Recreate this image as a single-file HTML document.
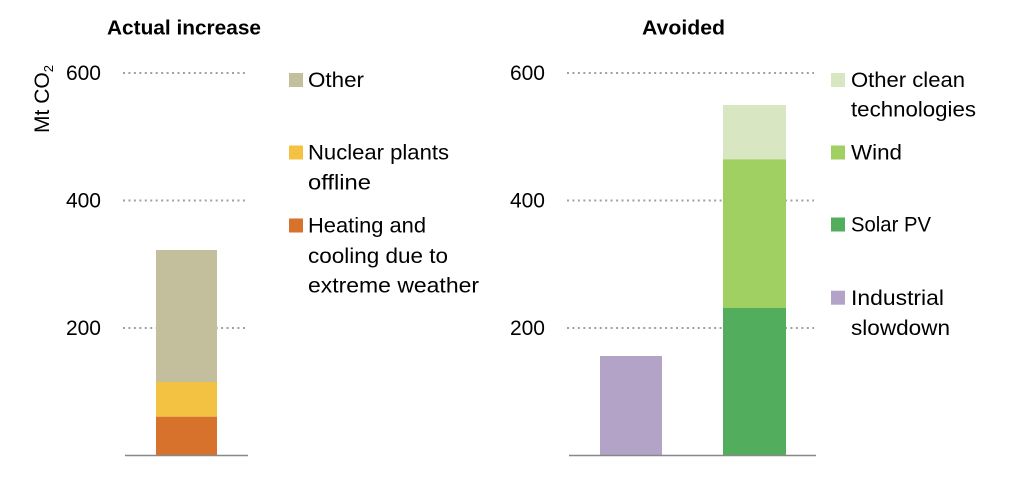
<!DOCTYPE html>
<html>
<head>
<meta charset="utf-8">
<style>
  html, body { margin: 0; padding: 0; background: #ffffff; }
  svg { display: block; }
  text { font-family: "Liberation Sans", "DejaVu Sans", sans-serif; fill: #000; }
</style>
</head>
<body>
<svg width="1024" height="478" viewBox="0 0 1024 478" xmlns="http://www.w3.org/2000/svg">
  <rect x="0" y="0" width="1024" height="478" fill="#ffffff"/>

  <!-- Titles -->
  <text x="107" y="34.5" font-size="20" font-weight="bold" textLength="154" lengthAdjust="spacingAndGlyphs">Actual increase</text>
  <text x="642" y="34.5" font-size="20" font-weight="bold" textLength="83" lengthAdjust="spacingAndGlyphs">Avoided</text>

  <!-- Y axis label -->
  <text transform="translate(49,99) rotate(-90)" font-size="21" text-anchor="middle">Mt CO<tspan font-size="13" dy="4">2</tspan></text>

  <!-- Left tick labels -->
  <text x="101" y="80" font-size="21" text-anchor="end">600</text>
  <text x="101" y="207.5" font-size="21" text-anchor="end">400</text>
  <text x="101" y="335" font-size="21" text-anchor="end">200</text>

  <!-- Right tick labels -->
  <text x="545" y="80" font-size="21" text-anchor="end">600</text>
  <text x="545" y="207.5" font-size="21" text-anchor="end">400</text>
  <text x="545" y="335" font-size="21" text-anchor="end">200</text>

  <!-- Gridlines left -->
  <g stroke="#a0a0a0" stroke-width="2" stroke-dasharray="2 3.45">
    <line x1="123" y1="73" x2="248" y2="73"/>
    <line x1="123" y1="200.5" x2="248" y2="200.5"/>
    <line x1="123" y1="328" x2="248" y2="328"/>
    <line x1="567" y1="73" x2="814" y2="73"/>
    <line x1="567" y1="200.5" x2="814" y2="200.5"/>
    <line x1="567" y1="328" x2="814" y2="328"/>
  </g>

  <!-- Left bar -->
  <rect x="156" y="250" width="61" height="132" fill="#C3BE9C"/>
  <rect x="156" y="382" width="61" height="34.7" fill="#F4C243"/>
  <rect x="156" y="416.7" width="61" height="38.8" fill="#D6722C"/>

  <!-- Right bars -->
  <rect x="600" y="356" width="62" height="99.5" fill="#B3A3C6"/>
  <rect x="723" y="105" width="63" height="54.3" fill="#D8E6C2"/>
  <rect x="723" y="159.3" width="63" height="148.7" fill="#A0CF62"/>
  <rect x="723" y="308" width="63" height="147.5" fill="#52AE5D"/>

  <!-- Baselines -->
  <line x1="125" y1="455.5" x2="248" y2="455.5" stroke="#888888" stroke-width="1.6"/>
  <line x1="569" y1="455.5" x2="816" y2="455.5" stroke="#888888" stroke-width="1.6"/>

  <!-- Left legend -->
  <rect x="289" y="73" width="14" height="14" fill="#C3BE9C"/>
  <text x="308" y="87" font-size="21" textLength="56" lengthAdjust="spacingAndGlyphs">Other</text>

  <rect x="289" y="145.5" width="14" height="14" fill="#F4C243"/>
  <text x="308" y="159.5" font-size="21" textLength="141" lengthAdjust="spacingAndGlyphs">Nuclear plants</text>
  <text x="308" y="189.5" font-size="21" textLength="63" lengthAdjust="spacingAndGlyphs">offline</text>

  <rect x="289" y="218.5" width="14" height="14" fill="#D6722C"/>
  <text x="308" y="232.7" font-size="21" textLength="118" lengthAdjust="spacingAndGlyphs">Heating and</text>
  <text x="308" y="263" font-size="21" textLength="140" lengthAdjust="spacingAndGlyphs">cooling due to</text>
  <text x="308" y="292.7" font-size="21" textLength="171" lengthAdjust="spacingAndGlyphs">extreme weather</text>

  <!-- Right legend -->
  <rect x="831" y="73" width="14" height="14" fill="#D8E6C2"/>
  <text x="851" y="87" font-size="21" textLength="114" lengthAdjust="spacingAndGlyphs">Other clean</text>
  <text x="851" y="116.7" font-size="21" textLength="125" lengthAdjust="spacingAndGlyphs">technologies</text>

  <rect x="831" y="145.5" width="14" height="14" fill="#A0CF62"/>
  <text x="851" y="159.3" font-size="21" textLength="51" lengthAdjust="spacingAndGlyphs">Wind</text>

  <rect x="831" y="217.5" width="14" height="14" fill="#52AE5D"/>
  <text x="851" y="231.7" font-size="21" textLength="80" lengthAdjust="spacingAndGlyphs">Solar PV</text>

  <rect x="831" y="290.7" width="14" height="14" fill="#B3A3C6"/>
  <text x="851" y="305" font-size="21" textLength="93" lengthAdjust="spacingAndGlyphs">Industrial</text>
  <text x="851" y="335" font-size="21" textLength="99" lengthAdjust="spacingAndGlyphs">slowdown</text>
</svg>
</body>
</html>
